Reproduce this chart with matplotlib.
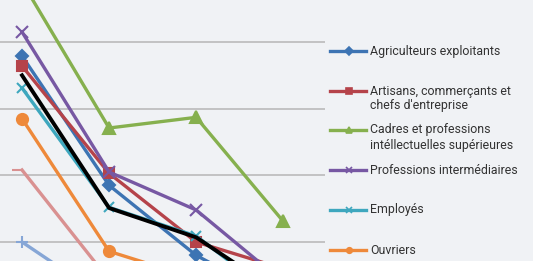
import matplotlib.pyplot as plt
from matplotlib.lines import Line2D

plt.rcParams['font.family'] = ['Roboto', 'DejaVu Sans']

# x positions (categories, only the first ones are visible in the crop)
cats = [0, 1, 2, 3]

agri = [47.9, 28.5, 18.0, 11.0]
artisans = [46.4, 30.3, 20.0, 16.0]
cadres = [59.0, 37.1, 38.7, 23.1]
prof_int = [51.5, 30.5, 24.8, 14.0]
employes = [43.1, 25.2, 20.9, 11.0]
ouvriers = [38.5, 18.6, 14.5, 11.0]
serie7 = [30.8, 14.3, 10.0, 8.0]
serie8 = [20.0, 11.2, 9.0, 7.0]
ensemble = [45.0, 25.1, 20.7, 12.0]

labels = ["Agriculteurs exploitants",
          "Artisans, commerçants et\nchefs d'entreprise",
          "Cadres et professions\nintéllectuelles supérieures",
          "Professions intermédiaires",
          "Employés",
          "Ouvriers"]

bg = '#f0f2f5'
fig = plt.figure(figsize=(5.33, 2.61), dpi=100, facecolor=bg)
ax = fig.add_axes([0, 0, 325 / 533, 1])
ax.set_facecolor(bg)

styles = [
    (agri, '#3d74b3', 'D', 6),
    (artisans, '#b5434a', 's', 7),
    (cadres, '#86b04e', '^', 8),
    (prof_int, '#7758a3', 'x', 8),
    (employes, '#3ea7be', 'x', 7),
    (ouvriers, '#ee893a', 'o', 8),
    (serie7, '#d99191', 0, 7),
    (serie8, '#86a6d6', '+', 8),
]
for vals, c, m, ms in styles:
    ax.plot(cats, vals, color=c, lw=2.4, marker=m, ms=ms, mew=1.5, mfc=c, mec=c)
ax.plot(cats, ensemble, color='black', lw=2.8)

for g in [20, 30, 40, 50]:
    ax.axhline(g, color='#bfbfbf', lw=1.3, zorder=0)

ax.set_xlim(-0.253, 3.48)
ax.set_ylim(17.15, 56.3)
ax.axis('off')

# legend drawn by hand, one entry every 40 px
ys = [51, 91, 130, 170, 210, 250]
for i, lab in enumerate(labels):
    vals, c, m, ms = styles[i]
    yf = 1 - ys[i] / 261
    fig.add_artist(Line2D([330 / 533, 366 / 533], [yf, yf], color=c, lw=2.4,
                          transform=fig.transFigure))
    fig.add_artist(Line2D([349 / 533], [yf], color=c, lw=0, marker=m, ms=4,
                          mew=1.2, mfc=c, mec=c, transform=fig.transFigure))
    for j, part in enumerate(lab.split('\n')):
        fig.text(370 / 533, 1 - (ys[i] + 15 * j) / 261, part, fontsize=8.9,
                 color='#333333', va='center', ha='left')

fig.savefig('out.png', dpi=100, facecolor=bg)
